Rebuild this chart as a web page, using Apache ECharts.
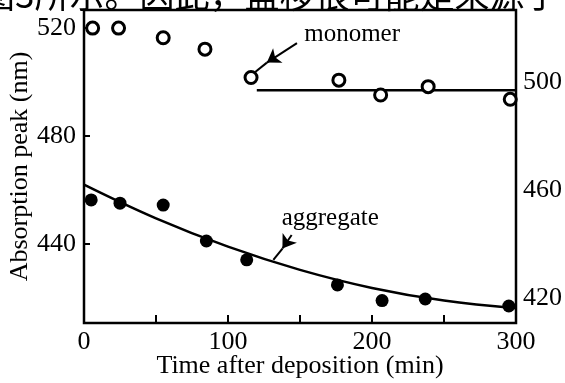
<!DOCTYPE html>
<html>
<head>
<meta charset="utf-8">
<script src="https://cdn.jsdelivr.net/npm/echarts@6/dist/echarts.min.js"></script>
<style>
  html, body { margin: 0; padding: 0; background: #fff; }
  #chart { width: 565px; height: 383px; }
</style>
</head>
<body>
<div id="chart"></div>
<script>
// Absorption peak position vs. time after film deposition (nm / min)
const monomerTime = [6, 24, 55, 84, 116, 177, 206, 239, 296];
const monomerPeak = [520, 520, 516.4, 512.2, 501.7, 500.7, 495.2, 498.3, 493.6];

const aggregateTime = [5, 25, 55, 85, 113, 176, 207, 237, 295];
const aggregatePeak = [456.3, 455.1, 454.4, 441.1, 434.1, 424.8, 419.0, 419.6, 417.0];

// guide curve through the aggregate band
const aggregateFitTime = [0, 50, 100, 150, 200, 250, 300];
const aggregateFitPeak = [462, 449.5, 439, 430.4, 423.7, 419, 416.2];

// level reached by the monomer band
const monomerLevelTime = [120, 300];
const monomerLevelPeak = [497, 497];

const xTickValues = [50, 100, 150, 200, 250];
const xLabelValues = [0, 100, 200, 300];
const yLeftValues = [440, 480, 520];
const yRightValues = [420, 460, 500];

const headerText = '图3所示。因此，蓝移很可能是来源于';

const serif = 'Liberation Serif';
const ink = '#000';

const zip = (xs, ys) => xs.map((x, i) => [x, ys[i]]);

// pointer made of an arrow segment plus a short plain lead-in to the mark
function pointer(from, head, to) {
  return [
    [{ coord: from, symbol: 'none' }, { coord: head, symbol: 'arrow', symbolSize: 13 }],
    [{ coord: head, symbol: 'none' }, { coord: to, symbol: 'none' }]
  ];
}

const chart = echarts.init(document.getElementById('chart'), null, { renderer: 'canvas' });

chart.setOption({
  animation: false,
  backgroundColor: '#fff',
  graphic: [{
    type: 'text',
    x: -20,
    y: -23,
    silent: true,
    style: {
      text: headerText,
      font: '35px "Noto Sans CJK SC"',
      fill: ink,
      verticalAlign: 'top'
    }
  }],
  grid: {
    left: 84, right: 49, top: 10, bottom: 60,
    outerBoundsMode: 'none',
    containLabel: false,
    show: true,
    borderColor: ink,
    borderWidth: 2.5,
    backgroundColor: 'transparent'
  },
  xAxis: {
    type: 'value',
    min: 0, max: 300,
    axisLine: { show: false },
    splitLine: { show: false },
    axisTick: {
      show: true, inside: true, length: 8,
      customValues: xTickValues,
      lineStyle: { color: ink, width: 2 }
    },
    axisLabel: {
      customValues: xLabelValues,
      color: ink, fontFamily: serif, fontSize: 26, margin: 6
    },
    name: 'Time after deposition (min)',
    nameLocation: 'middle',
    nameGap: 30,
    nameMoveOverlap: false,
    nameTextStyle: { color: ink, fontFamily: serif, fontSize: 26 }
  },
  yAxis: [{
    type: 'value',
    min: 410.7, max: 526.7,
    axisLine: { show: false },
    splitLine: { show: false },
    axisTick: {
      show: true, inside: true, length: 6,
      customValues: yLeftValues,
      lineStyle: { color: ink, width: 2 }
    },
    axisLabel: {
      customValues: yLeftValues,
      color: ink, fontFamily: serif, fontSize: 26, margin: 8
    },
    name: 'Absorption peak (nm)',
    nameLocation: 'middle',
    nameRotate: 90,
    nameGap: 51,
    nameMoveOverlap: false,
    nameTextStyle: { color: ink, fontFamily: serif, fontSize: 26 }
  }, {
    type: 'value',
    position: 'right',
    min: 410.7, max: 526.7,
    axisLine: { show: false },
    splitLine: { show: false },
    axisTick: { show: false },
    axisLabel: {
      customValues: yRightValues,
      color: ink, fontFamily: serif, fontSize: 26, margin: 7
    }
  }],
  series: [
    {
      name: 'monomer level',
      type: 'line',
      data: zip(monomerLevelTime, monomerLevelPeak),
      symbol: 'none',
      lineStyle: { color: ink, width: 2.5 },
      silent: true,
      z: 2,
      markLine: {
        silent: true,
        label: { show: false },
        lineStyle: { color: ink, width: 2, type: 'solid' },
        data: pointer([147.9, 514.4], [127, 507.2], [118.9, 503.7])
      },
      markPoint: {
        silent: true,
        symbol: 'circle',
        symbolSize: 0,
        label: {
          show: true, position: 'inside', formatter: 'monomer',
          color: ink, fontFamily: serif, fontSize: 25
        },
        data: [{ coord: [186.2, 517.6] }]
      }
    },
    {
      name: 'aggregate fit',
      type: 'line',
      data: zip(aggregateFitTime, aggregateFitPeak),
      smooth: 0.4,
      symbol: 'none',
      lineStyle: { color: ink, width: 2.5 },
      silent: true,
      z: 2,
      markLine: {
        silent: true,
        label: { show: false },
        lineStyle: { color: ink, width: 2, type: 'solid' },
        data: pointer([144.2, 443.3], [137.8, 438.3], [131.5, 434.1])
      },
      markPoint: {
        silent: true,
        symbol: 'circle',
        symbolSize: 0,
        label: {
          show: true, position: 'inside', formatter: 'aggregate',
          color: ink, fontFamily: serif, fontSize: 25
        },
        data: [{ coord: [171, 449.6] }]
      }
    },
    {
      name: 'monomer',
      type: 'scatter',
      data: zip(monomerTime, monomerPeak),
      symbol: 'circle',
      symbolSize: 12,
      clip: false,
      itemStyle: { color: '#fff', borderColor: ink, borderWidth: 3, opacity: 1 },
      z: 3
    },
    {
      name: 'aggregate',
      type: 'scatter',
      data: zip(aggregateTime, aggregatePeak),
      symbol: 'circle',
      symbolSize: 13,
      clip: false,
      itemStyle: { color: ink, opacity: 1 },
      z: 3
    }
  ]
});
</script>
</body>
</html>
